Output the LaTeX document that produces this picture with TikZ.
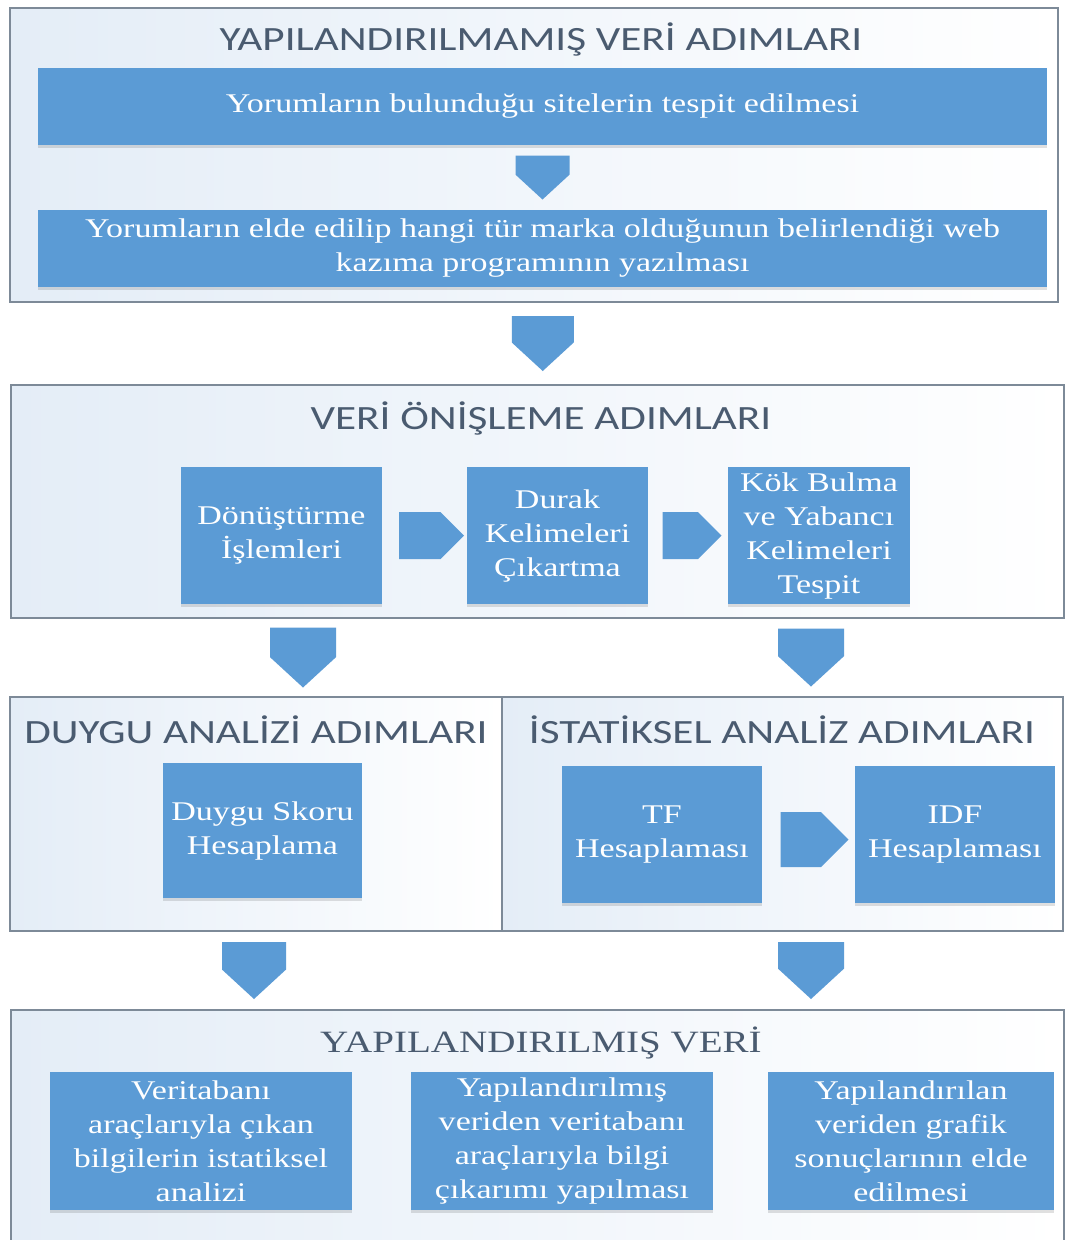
\documentclass[tikz,border=0pt]{standalone}
\usepackage{fontspec}
\setmainfont{Liberation Serif}
\newfontfamily\titlefont[FakeStretch=1.27]{Carlito}
\newfontfamily\boxfont[FakeStretch=1.26]{Liberation Serif}
\usetikzlibrary{calc,shadows}
\definecolor{boxblue}{HTML}{5B9BD5}
\definecolor{titlegray}{HTML}{4A5B70}
\definecolor{framegray}{HTML}{7D8A98}
\definecolor{framebg}{HTML}{E4EDF7}
\tikzset{
  frame/.style={draw=framegray, line width=1.2pt, left color=framebg, right color=white, inner sep=0pt},
  ttl/.style={anchor=base, text=titlegray, font=\titlefont\fontsize{34}{40}\selectfont},
  block/.style={fill=boxblue, text=white, align=center, inner sep=0pt,
    font=\boxfont\fontsize{27}{34}\selectfont,
    drop shadow={shadow xshift=0pt, shadow yshift=-3pt, opacity=0.12, fill=black}},
  pics/dnblock/.style 2 args={code={
    \fill[boxblue] (-#1/2,-#2/2) -- (#1/2,-#2/2) -- (#1/2,#2/2-#1*0.46) -- (0,#2/2) -- (-#1/2,#2/2-#1*0.46) -- cycle;}},
  pics/rtblock/.style 2 args={code={
    \fill[boxblue] (-#1/2,-#2/2) -- (#1/2-#2*0.5,-#2/2) -- (#1/2,0) -- (#1/2-#2*0.5,#2/2) -- (-#1/2,#2/2) -- cycle;}}
}

\begin{document}
\begin{tikzpicture}[x=1pt, y=-1pt]
\useasboundingbox[fill=white] (0,0) rectangle (1066,1240);

\node[frame, minimum width=1048pt, minimum height=294pt] (frame1) at (534,155) {};
\node[frame, minimum width=1053pt, minimum height=233pt] (frame2) at (537.5,501.5) {};
\node[frame, minimum width=492pt, minimum height=234pt] (frame3a) at (256,814) {};
\node[frame, minimum width=561pt, minimum height=234pt] (frame3b) at (782.5,814) {};
\node[frame, minimum width=1053pt, minimum height=240pt] (frame4) at (537.5,1130) {};

\node[ttl] (t1) at (541,50) {YAPILANDIRILMAMIŞ VERİ ADIMLARI};
\node[block, minimum width=1009pt, minimum height=77pt] (b11) at (542.5,106.5) {Yorumların bulunduğu sitelerin tespit edilmesi};
\node[block, minimum width=1009pt, minimum height=77pt] (b12) at (542.5,248.5) {Yorumların elde edilip hangi tür marka olduğunun belirlendiği web\\kazıma programının yazılması};
\pic at ($(b11.south)!.5!(b12.north)$) {dnblock={54}{44}};
\pic at ($(frame1.south)!.5!(frame2.north)+(7,0)$) {dnblock={62}{55}};

\node[ttl] (t2) at (541,429) {VERİ ÖNİŞLEME ADIMLARI};
\node[block, minimum width=201pt, minimum height=137pt] (b21) at (281.5,535.5) {Dönüştürme\\İşlemleri};
\node[block, minimum width=181pt, minimum height=137pt] (b22) at (557.5,535.5) {Durak\\Kelimeleri\\Çıkartma};
\node[block, minimum width=182pt, minimum height=137pt] (b23) at (819,535.5) {Kök Bulma\\ve Yabancı\\Kelimeleri\\Tespit};
\pic at ($(b21.east)!.5!(b22.west)+(7,0)$) {rtblock={65}{47}};
\pic at ($(b22.east)!.5!(b23.west)+(4,0)$) {rtblock={59}{47}};
\pic at ($(frame2.south -| 303,0)!.5!(frame3a.north -| 303,0)$) {dnblock={66}{60}};
\pic at ($(frame2.south -| 811,0)!.5!(frame3b.north -| 811,0)$) {dnblock={66}{58}};

\node[ttl] (t31) at (256,743) {DUYGU ANALİZİ ADIMLARI};
\node[ttl] (t32) at (782,743) {İSTATİKSEL ANALİZ ADIMLARI};
\node[block, minimum width=199pt, minimum height=135pt] (b31) at (262.5,830.5) {Duygu Skoru\\Hesaplama};
\node[block, minimum width=200pt, minimum height=137pt] (b32) at (662,834.5) {TF\\Hesaplaması};
\node[block, minimum width=200pt, minimum height=137pt] (b33) at (955,834.5) {IDF\\Hesaplaması};
\pic at ($(b32.east)!.5!(b33.west)+(6,5)$) {rtblock={68}{55}};
\pic at ($(frame3a.south -| 254,0)!.5!(frame4.north -| 254,0)$) {dnblock={64}{57}};
\pic at ($(frame3b.south -| 811,0)!.5!(frame4.north -| 811,0)$) {dnblock={66}{57}};

\node[anchor=base, text=titlegray, font=\boxfont\fontsize{31}{36}\selectfont] (t4) at (541,1052) {YAPILANDIRILMIŞ VERİ};
\node[block, minimum width=302pt, minimum height=138pt] (b41) at (201,1141) {Veritabanı\\araçlarıyla çıkan\\bilgilerin istatiksel\\analizi};
\node[block, minimum width=302pt, minimum height=138pt] (b42) at (562,1141) {Yapılandırılmış\\veriden veritabanı\\araçlarıyla bilgi\\çıkarımı yapılması};
\node[block, minimum width=286pt, minimum height=138pt] (b43) at (911,1141) {Yapılandırılan\\veriden grafik\\sonuçlarının elde\\edilmesi};
\end{tikzpicture}
\end{document}
